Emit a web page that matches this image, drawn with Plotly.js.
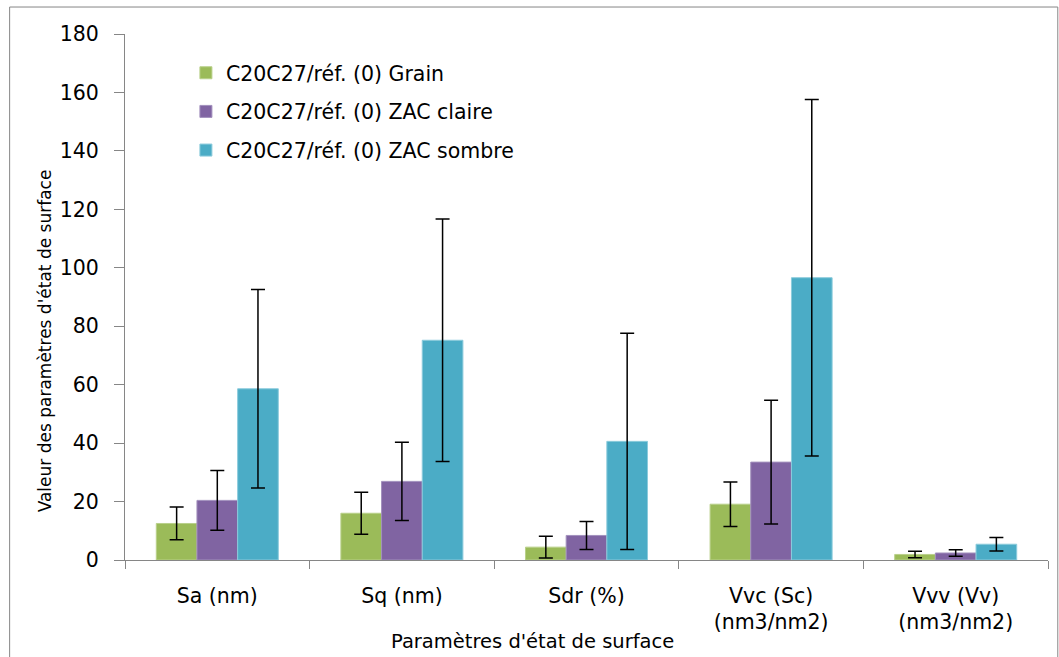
<!DOCTYPE html>
<html><head><meta charset="utf-8">
<script src="https://cdn.plot.ly/plotly-3.0.1.min.js"></script>
<style>html,body{margin:0;padding:0;background:#fff;}#chart{width:1059px;height:657px;}</style>
</head><body><div id="chart"></div>
<script>
const categories = ["Sa (nm)", "Sq (nm)", "Sdr (%)", "Vvc (Sc)<br>(nm3/nm2)", "Vvv (Vv)<br>(nm3/nm2)"];
const seriesNames = ["C20C27/réf. (0) Grain", "C20C27/réf. (0) ZAC claire", "C20C27/réf. (0) ZAC sombre"];
const grainValues = [12.5, 16.0, 4.4, 19.1, 1.9];
const grainErrors = [5.6, 7.2, 3.7, 7.6, 1.1];
const claireValues = [20.4, 26.9, 8.4, 33.5, 2.4];
const claireErrors = [10.2, 13.4, 4.8, 21.2, 1.1];
const sombreValues = [58.6, 75.2, 40.6, 96.6, 5.4];
const sombreErrors = [34.0, 41.5, 37.0, 61.0, 2.3];
const yTicks = [0, 20, 40, 60, 80, 100, 120, 140, 160, 180];

const colors = ["#9BBB59", "#8064A2", "#4BACC6"];
const lineColors = ["#b9d08a", "#a290bd", "#8ccbdc"];
const values = [grainValues, claireValues, sombreValues];
const errors = [grainErrors, claireErrors, sombreErrors];
const font = "DejaVu Sans, sans-serif";

const traces = seriesNames.map((name, i) => ({
  type: "bar",
  name: name,
  x: categories,
  y: values[i],
  legendgroup: "g" + i,
  marker: {color: colors[i], line: {color: lineColors[i], width: 1}},
  error_y: {type: "data", array: errors[i], visible: true, color: "#000", thickness: 1.5, width: 7}
}));

const layout = {
  width: 1059, height: 657,
  margin: {l: 125, r: 11, t: 34, b: 97},
  paper_bgcolor: "#fff", plot_bgcolor: "#fff",
  font: {family: font, size: 20, color: "#000"},
  barmode: "group",
  bargap: 0.339,
  bargroupgap: 0,
  showlegend: true,
  legend: {x: 0.066, y: 0.964, xanchor: "left", yanchor: "top", font: {family: font, size: 20.5, color: "#000"},
           traceorder: "grouped", tracegroupgap: 9, bgcolor: "rgba(0,0,0,0)"},
  xaxis: {
    type: "category",
    showline: true, linecolor: "#868686", linewidth: 1,
    ticks: "outside", tickson: "boundaries", ticklen: 8, tickcolor: "#868686",
    showgrid: false, zeroline: false,
    ticklabelstandoff: 17,
    tickfont: {family: font, size: 20.5, color: "#000"},
    fixedrange: true
  },
  yaxis: {
    range: [0, 180],
    tickvals: yTicks, ticktext: yTicks.map(String),
    showline: true, linecolor: "#868686", linewidth: 1,
    ticks: "outside", ticklen: 10, tickcolor: "#868686",
    showgrid: false, zeroline: false,
    ticklabelstandoff: 11,
    tickfont: {family: font, size: 20.5, color: "#000"}
  },
  annotations: [{
    text: "Paramètres d'état de surface", xref: "paper", yref: "paper",
    x: 0.441, y: -0.154, xanchor: "center", yanchor: "middle", showarrow: false,
    font: {family: font, size: 19.5, color: "#000"}
  }, {
    text: "Valeur des paramètres d'état de surface", xref: "paper", yref: "paper",
    x: -0.087, y: 0.417, xanchor: "center", yanchor: "middle", showarrow: false, textangle: -90,
    font: {family: font, size: 17, color: "#000"}
  }],
  shapes: [{
    type: "rect", xref: "paper", yref: "paper",
    x0: -0.125, x1: 1.0106, y0: -0.25, y1: 1.0513,
    line: {color: "#868686", width: 1}, fillcolor: "rgba(0,0,0,0)"
  }]
};

Plotly.newPlot("chart", traces, layout, {displayModeBar: false, staticPlot: true});
</script>
</body></html>
